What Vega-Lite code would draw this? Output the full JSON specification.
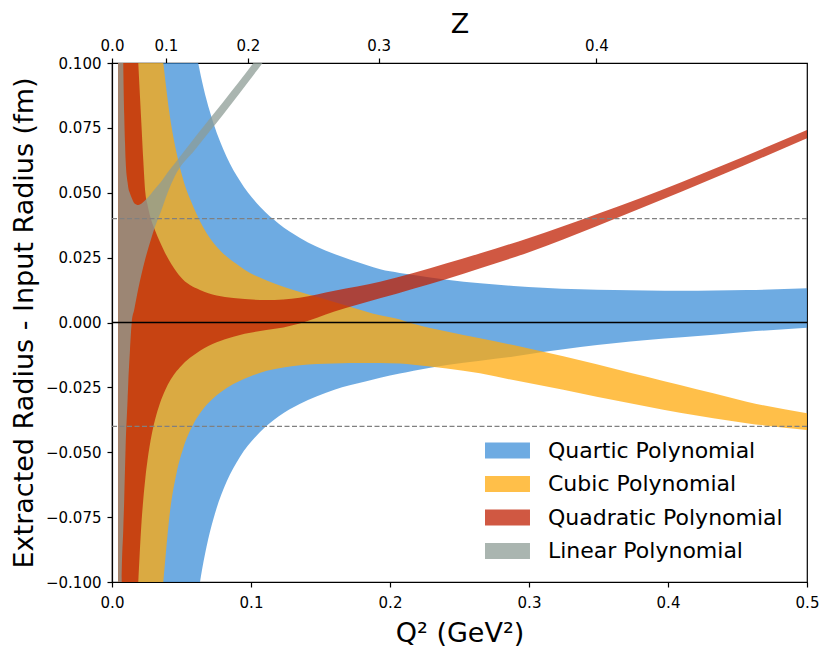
{
  "$schema": "https://vega.github.io/schema/vega-lite/v6.json",
  "width": 695,
  "height": 519,
  "autosize": {"type": "none"},
  "padding": {"left": 112, "top": 63, "right": 24, "bottom": 73},
  "data": {"name": "bands"},
  "datasets": {
    "bands": [
      {"model": "Quartic Polynomial", "q2": 0.0045, "lo": -0.3, "hi": 0.3},
      {"model": "Quartic Polynomial", "q2": 0.062, "lo": -0.1046, "hi": 0.1},
      {"model": "Quartic Polynomial", "q2": 0.064, "lo": -0.0977, "hi": 0.0948},
      {"model": "Quartic Polynomial", "q2": 0.068, "lo": -0.0864, "hi": 0.0858},
      {"model": "Quartic Polynomial", "q2": 0.073, "lo": -0.0756, "hi": 0.0768},
      {"model": "Quartic Polynomial", "q2": 0.0825, "lo": -0.0613, "hi": 0.0638},
      {"model": "Quartic Polynomial", "q2": 0.092, "lo": -0.0518, "hi": 0.0546},
      {"model": "Quartic Polynomial", "q2": 0.1065, "lo": -0.0422, "hi": 0.0446},
      {"model": "Quartic Polynomial", "q2": 0.12, "lo": -0.0361, "hi": 0.0381},
      {"model": "Quartic Polynomial", "q2": 0.135, "lo": -0.0314, "hi": 0.0327},
      {"model": "Quartic Polynomial", "q2": 0.147, "lo": -0.0285, "hi": 0.0293},
      {"model": "Quartic Polynomial", "q2": 0.16, "lo": -0.0259, "hi": 0.0264},
      {"model": "Quartic Polynomial", "q2": 0.171, "lo": -0.0242, "hi": 0.0243},
      {"model": "Quartic Polynomial", "q2": 0.183, "lo": -0.0226, "hi": 0.0222},
      {"model": "Quartic Polynomial", "q2": 0.193, "lo": -0.0213, "hi": 0.0205},
      {"model": "Quartic Polynomial", "q2": 0.207, "lo": -0.0197, "hi": 0.0191},
      {"model": "Quartic Polynomial", "q2": 0.217, "lo": -0.0186, "hi": 0.0183},
      {"model": "Quartic Polynomial", "q2": 0.241, "lo": -0.0164, "hi": 0.0165},
      {"model": "Quartic Polynomial", "q2": 0.265, "lo": -0.0147, "hi": 0.0151},
      {"model": "Quartic Polynomial", "q2": 0.289, "lo": -0.0131, "hi": 0.0141},
      {"model": "Quartic Polynomial", "q2": 0.31, "lo": -0.0114, "hi": 0.0134},
      {"model": "Quartic Polynomial", "q2": 0.337, "lo": -0.0094, "hi": 0.0128},
      {"model": "Quartic Polynomial", "q2": 0.361, "lo": -0.008, "hi": 0.0125},
      {"model": "Quartic Polynomial", "q2": 0.385, "lo": -0.0067, "hi": 0.0123},
      {"model": "Quartic Polynomial", "q2": 0.41, "lo": -0.0057, "hi": 0.0122},
      {"model": "Quartic Polynomial", "q2": 0.433, "lo": -0.0047, "hi": 0.0123},
      {"model": "Quartic Polynomial", "q2": 0.457, "lo": -0.0036, "hi": 0.0125},
      {"model": "Quartic Polynomial", "q2": 0.5, "lo": -0.002, "hi": 0.0132},

      {"model": "Cubic Polynomial", "q2": 0.0045, "lo": -0.3, "hi": 0.3},
      {"model": "Cubic Polynomial", "q2": 0.0369, "lo": -0.1, "hi": 0.1},
      {"model": "Cubic Polynomial", "q2": 0.0417, "lo": -0.0729, "hi": 0.0793},
      {"model": "Cubic Polynomial", "q2": 0.0465, "lo": -0.0579, "hi": 0.0652},
      {"model": "Cubic Polynomial", "q2": 0.0513, "lo": -0.0484, "hi": 0.0549},
      {"model": "Cubic Polynomial", "q2": 0.0585, "lo": -0.0392, "hi": 0.0446},
      {"model": "Cubic Polynomial", "q2": 0.0633, "lo": -0.035, "hi": 0.039},
      {"model": "Cubic Polynomial", "q2": 0.0681, "lo": -0.0317, "hi": 0.0344},
      {"model": "Cubic Polynomial", "q2": 0.0753, "lo": -0.028, "hi": 0.0292},
      {"model": "Cubic Polynomial", "q2": 0.0825, "lo": -0.0252, "hi": 0.0254},
      {"model": "Cubic Polynomial", "q2": 0.0921, "lo": -0.0224, "hi": 0.0216},
      {"model": "Cubic Polynomial", "q2": 0.0993, "lo": -0.0208, "hi": 0.0191},
      {"model": "Cubic Polynomial", "q2": 0.1113, "lo": -0.0186, "hi": 0.0162},
      {"model": "Cubic Polynomial", "q2": 0.1233, "lo": -0.0173, "hi": 0.0138},
      {"model": "Cubic Polynomial", "q2": 0.1353, "lo": -0.0165, "hi": 0.0118},
      {"model": "Cubic Polynomial", "q2": 0.1473, "lo": -0.016, "hi": 0.0099},
      {"model": "Cubic Polynomial", "q2": 0.1592, "lo": -0.0158, "hi": 0.008},
      {"model": "Cubic Polynomial", "q2": 0.1712, "lo": -0.0156, "hi": 0.0061},
      {"model": "Cubic Polynomial", "q2": 0.1928, "lo": -0.0156, "hi": 0.0028},
      {"model": "Cubic Polynomial", "q2": 0.2072, "lo": -0.0158, "hi": 0.0012},
      {"model": "Cubic Polynomial", "q2": 0.2168, "lo": -0.0163, "hi": -0.0005},
      {"model": "Cubic Polynomial", "q2": 0.2408, "lo": -0.0177, "hi": -0.0035},
      {"model": "Cubic Polynomial", "q2": 0.2647, "lo": -0.0196, "hi": -0.0061},
      {"model": "Cubic Polynomial", "q2": 0.2887, "lo": -0.0222, "hi": -0.0087},
      {"model": "Cubic Polynomial", "q2": 0.3127, "lo": -0.0247, "hi": -0.0116},
      {"model": "Cubic Polynomial", "q2": 0.3367, "lo": -0.0273, "hi": -0.0145},
      {"model": "Cubic Polynomial", "q2": 0.3607, "lo": -0.0299, "hi": -0.0177},
      {"model": "Cubic Polynomial", "q2": 0.3847, "lo": -0.0324, "hi": -0.0209},
      {"model": "Cubic Polynomial", "q2": 0.4086, "lo": -0.0348, "hi": -0.0241},
      {"model": "Cubic Polynomial", "q2": 0.4326, "lo": -0.0369, "hi": -0.0273},
      {"model": "Cubic Polynomial", "q2": 0.4566, "lo": -0.0388, "hi": -0.0305},
      {"model": "Cubic Polynomial", "q2": 0.5, "lo": -0.0414, "hi": -0.035},

      {"model": "Quadratic Polynomial", "q2": 0.0045, "lo": -0.3, "hi": 0.3},
      {"model": "Quadratic Polynomial", "q2": 0.0189, "lo": -0.1, "hi": 0.1},
      {"model": "Quadratic Polynomial", "q2": 0.0213, "lo": -0.0764, "hi": 0.075},
      {"model": "Quadratic Polynomial", "q2": 0.0225, "lo": -0.0682, "hi": 0.0626},
      {"model": "Quadratic Polynomial", "q2": 0.024, "lo": -0.0599, "hi": 0.05},
      {"model": "Quadratic Polynomial", "q2": 0.0255, "lo": -0.0533, "hi": 0.0455},
      {"model": "Quadratic Polynomial", "q2": 0.0285, "lo": -0.0434, "hi": 0.039},
      {"model": "Quadratic Polynomial", "q2": 0.031, "lo": -0.0374, "hi": 0.0355},
      {"model": "Quadratic Polynomial", "q2": 0.0345, "lo": -0.0311, "hi": 0.031},
      {"model": "Quadratic Polynomial", "q2": 0.038, "lo": -0.0264, "hi": 0.027},
      {"model": "Quadratic Polynomial", "q2": 0.0465, "lo": -0.0187, "hi": 0.0195},
      {"model": "Quadratic Polynomial", "q2": 0.0489, "lo": -0.0172, "hi": 0.0178},
      {"model": "Quadratic Polynomial", "q2": 0.0633, "lo": -0.0109, "hi": 0.0125},
      {"model": "Quadratic Polynomial", "q2": 0.0873, "lo": -0.0055, "hi": 0.0094},
      {"model": "Quadratic Polynomial", "q2": 0.111, "lo": -0.0029, "hi": 0.0087},
      {"model": "Quadratic Polynomial", "q2": 0.1233, "lo": -0.0019, "hi": 0.0089},
      {"model": "Quadratic Polynomial", "q2": 0.135, "lo": -0.0004, "hi": 0.0095},
      {"model": "Quadratic Polynomial", "q2": 0.16, "lo": 0.0042, "hi": 0.0122},
      {"model": "Quadratic Polynomial", "q2": 0.1928, "lo": 0.0093, "hi": 0.0157},
      {"model": "Quadratic Polynomial", "q2": 0.2408, "lo": 0.0168, "hi": 0.0228},
      {"model": "Quadratic Polynomial", "q2": 0.265, "lo": 0.0209, "hi": 0.0267},
      {"model": "Quadratic Polynomial", "q2": 0.3, "lo": 0.0271, "hi": 0.0326},
      {"model": "Quadratic Polynomial", "q2": 0.349, "lo": 0.0372, "hi": 0.0418},
      {"model": "Quadratic Polynomial", "q2": 0.38, "lo": 0.0439, "hi": 0.0479},
      {"model": "Quadratic Polynomial", "q2": 0.44, "lo": 0.0572, "hi": 0.0607},
      {"model": "Quadratic Polynomial", "q2": 0.5, "lo": 0.071, "hi": 0.0742},

      {"model": "Linear Polynomial", "q2": 0.0045, "lo": -0.3, "hi": 0.3},
      {"model": "Linear Polynomial", "q2": 0.007, "lo": -0.1, "hi": 0.16},
      {"model": "Linear Polynomial", "q2": 0.0081, "lo": -0.08, "hi": 0.1},
      {"model": "Linear Polynomial", "q2": 0.0088, "lo": -0.068, "hi": 0.08},
      {"model": "Linear Polynomial", "q2": 0.0094, "lo": -0.0556, "hi": 0.069},
      {"model": "Linear Polynomial", "q2": 0.0098, "lo": -0.048, "hi": 0.0626},
      {"model": "Linear Polynomial", "q2": 0.0112, "lo": -0.03, "hi": 0.054},
      {"model": "Linear Polynomial", "q2": 0.0117, "lo": -0.0234, "hi": 0.052},
      {"model": "Linear Polynomial", "q2": 0.0129, "lo": -0.011, "hi": 0.0498},
      {"model": "Linear Polynomial", "q2": 0.0142, "lo": 0.0, "hi": 0.048},
      {"model": "Linear Polynomial", "q2": 0.016, "lo": 0.005, "hi": 0.046},
      {"model": "Linear Polynomial", "q2": 0.0189, "lo": 0.013, "hi": 0.0453},
      {"model": "Linear Polynomial", "q2": 0.0237, "lo": 0.024, "hi": 0.047},
      {"model": "Linear Polynomial", "q2": 0.028, "lo": 0.032, "hi": 0.0495},
      {"model": "Linear Polynomial", "q2": 0.031, "lo": 0.037, "hi": 0.0515},
      {"model": "Linear Polynomial", "q2": 0.035, "lo": 0.0425, "hi": 0.054},
      {"model": "Linear Polynomial", "q2": 0.04, "lo": 0.05, "hi": 0.0578},
      {"model": "Linear Polynomial", "q2": 0.045, "lo": 0.0562, "hi": 0.0612},
      {"model": "Linear Polynomial", "q2": 0.06, "lo": 0.0668, "hi": 0.0716},
      {"model": "Linear Polynomial", "q2": 0.08, "lo": 0.0802, "hi": 0.085},
      {"model": "Linear Polynomial", "q2": 0.1017, "lo": 0.0953, "hi": 0.1},
      {"model": "Linear Polynomial", "q2": 0.11, "lo": 0.1012, "hi": 0.106}
    ],
    "refs": [
      {"level": 0.04, "kind": "band"},
      {"level": -0.04, "kind": "band"},
      {"level": 0, "kind": "zero"}
    ]
  },
  "encoding": {
    "y": {
      "field": "lo",
      "type": "quantitative",
      "scale": {"domain": [-0.1, 0.1], "nice": false, "zero": false},
      "axis": {
        "title": "Extracted Radius - Input Radius (fm)",
        "values": [-0.1, -0.075, -0.05, -0.025, 0, 0.025, 0.05, 0.075, 0.1],
        "format": ".3f",
        "titlePadding": 7,
        "labelPadding": 6
      }
    },
    "y2": {"field": "hi"},
    "color": {
      "field": "model",
      "type": "nominal",
      "scale": {
        "domain": ["Quartic Polynomial", "Cubic Polynomial", "Quadratic Polynomial", "Linear Polynomial"],
        "range": ["#3e8fd8", "#ffaa0c", "#c02003", "#8e9c96"]
      },
      "legend": {
        "title": null,
        "orient": "none",
        "legendX": 384,
        "legendY": 376,
        "padding": 0,
        "symbolType": "M-2,-0.72H2V0.72H-2Z",
        "symbolSize": 506,
        "symbolOpacity": 0.75,
        "symbolStrokeWidth": 0,
        "labelOffset": 29,
        "labelFontSize": 22,
        "labelColor": "black",
        "rowPadding": 10.5,
        "labelLimit": 400
      }
    }
  },
  "layer": [
    {
      "transform": [{"filter": "datum.model === 'Quartic Polynomial'"}],
      "mark": {"type": "area", "clip": true, "fillOpacity": 0.75, "interpolate": "monotone"},
      "encoding": {
        "x": {
          "field": "q2",
          "type": "quantitative",
          "scale": {"domain": [0, 0.5], "nice": false, "zero": false},
          "axis": {
            "title": "Q² (GeV²)",
            "values": [0, 0.1, 0.2, 0.3, 0.4, 0.5],
            "format": ".1f",
            "labelPadding": 8,
            "titlePadding": 10
          }
        }
      }
    },
    {
      "transform": [{"filter": "datum.model === 'Cubic Polynomial'"}],
      "mark": {"type": "area", "clip": true, "fillOpacity": 0.75, "interpolate": "monotone"},
      "encoding": {
        "x": {
          "field": "q2",
          "type": "quantitative",
          "axis": {
            "orient": "top",
            "title": "Z",
            "values": [0, 0.0388, 0.0977, 0.1918, 0.3485],
            "labelExpr": "datum.value < 0.01 ? '0.0' : datum.value < 0.06 ? '0.1' : datum.value < 0.15 ? '0.2' : datum.value < 0.25 ? '0.3' : '0.4'",
            "labelPadding": 5,
            "titlePadding": 0
          }
        }
      }
    },
    {
      "transform": [{"filter": "datum.model === 'Quadratic Polynomial'"}],
      "mark": {"type": "area", "clip": true, "fillOpacity": 0.75, "interpolate": "monotone"},
      "encoding": {
        "x": {"field": "q2", "type": "quantitative", "axis": null}
      }
    },
    {
      "transform": [{"filter": "datum.model === 'Linear Polynomial'"}],
      "mark": {"type": "area", "clip": true, "fillOpacity": 0.75, "interpolate": "monotone"},
      "encoding": {
        "x": {"field": "q2", "type": "quantitative", "axis": null}
      }
    },
    {
      "data": {"name": "refs"},
      "transform": [{"filter": "datum.kind === 'band'"}],
      "mark": {"type": "rule", "color": "#808080", "strokeWidth": 1.3, "strokeDash": [5, 2.5]},
      "encoding": {
        "y": {"field": "level", "type": "quantitative"},
        "y2": null,
        "color": null
      }
    },
    {
      "data": {"name": "refs"},
      "transform": [{"filter": "datum.kind === 'zero'"}],
      "mark": {"type": "rule", "color": "black", "strokeWidth": 1.6},
      "encoding": {
        "y": {"field": "level", "type": "quantitative"},
        "y2": null,
        "color": null
      }
    }
  ],
  "resolve": {"axis": {"x": "independent"}},
  "config": {
    "font": "DejaVu Sans",
    "view": {"stroke": "black", "strokeWidth": 1.2},
    "axis": {
      "grid": false,
      "labelFontSize": 15,
      "labelColor": "black",
      "titleFontSize": 27,
      "titleFontWeight": "normal",
      "titleColor": "black",
      "domainColor": "black",
      "domainWidth": 1.2,
      "tickColor": "black",
      "tickWidth": 1.2,
      "tickSize": 5,
      "labelFlush": false,
      "labelOverlap": false
    }
  }
}
